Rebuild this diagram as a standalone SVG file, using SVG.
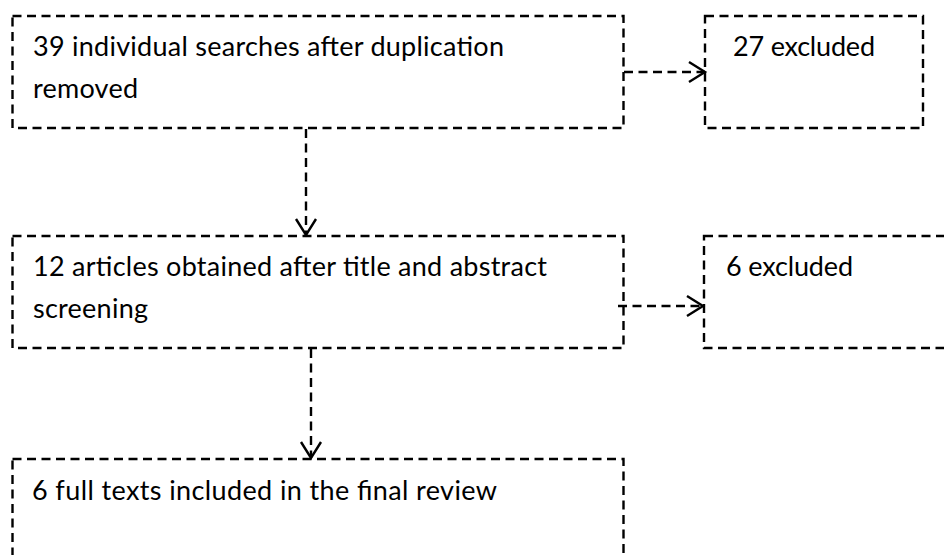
<svg xmlns="http://www.w3.org/2000/svg" width="944" height="555" viewBox="0 0 944 555">
<style>
.box{fill:none;stroke:#000;stroke-width:2.4;stroke-dasharray:9 5.5}
.con{fill:none;stroke:#000;stroke-width:2.4;stroke-dasharray:9 5.5}
.lbl{font-family:Lato,"Open Sans",sans-serif;font-size:27px;fill:#000}
</style>
<defs>
<marker id="arr" markerUnits="userSpaceOnUse" markerWidth="22" markerHeight="26" viewBox="0 0 22 26" refX="18" refY="13" orient="auto">
<path d="M2,3 L18,13 L2,23" fill="none" stroke="#000" stroke-width="2.4"/>
</marker>
</defs>
<rect width="944" height="555" fill="#fff"/>
<g id="n1">
<rect class="box" x="12.5" y="16" width="611" height="112"/>
<text class="lbl" x="33" y="56" textLength="471">39 individual searches after duplication</text>
<text class="lbl" x="33" y="98" textLength="105">removed</text>
</g>
<g id="n2">
<rect class="box" x="705" y="16" width="218" height="112"/>
<text class="lbl" x="733" y="56" textLength="142">27 excluded</text>
</g>
<g id="n3">
<rect class="box" x="12.5" y="236" width="611" height="112"/>
<text class="lbl" x="33" y="276" textLength="514">12 articles obtained after title and abstract</text>
<text class="lbl" x="33" y="318" textLength="115">screening</text>
</g>
<g id="n4">
<rect class="box" x="704" y="236" width="260" height="112"/>
<text class="lbl" x="726" y="276" textLength="127">6 excluded</text>
</g>
<g id="n5">
<rect class="box" x="12.5" y="459" width="611" height="112"/>
<text class="lbl" x="32" y="500" textLength="465">6 full texts included in the final review</text>
</g>
<g id="connectors">
<line class="con" x1="306" y1="129" x2="306" y2="235" marker-end="url(#arr)"/>
<line class="con" x1="624" y1="72" x2="705" y2="72" marker-end="url(#arr)"/>
<line class="con" x1="311" y1="349" x2="311" y2="458" marker-end="url(#arr)"/>
<line class="con" x1="618" y1="306" x2="703" y2="306" marker-end="url(#arr)"/>
</g>
</svg>
